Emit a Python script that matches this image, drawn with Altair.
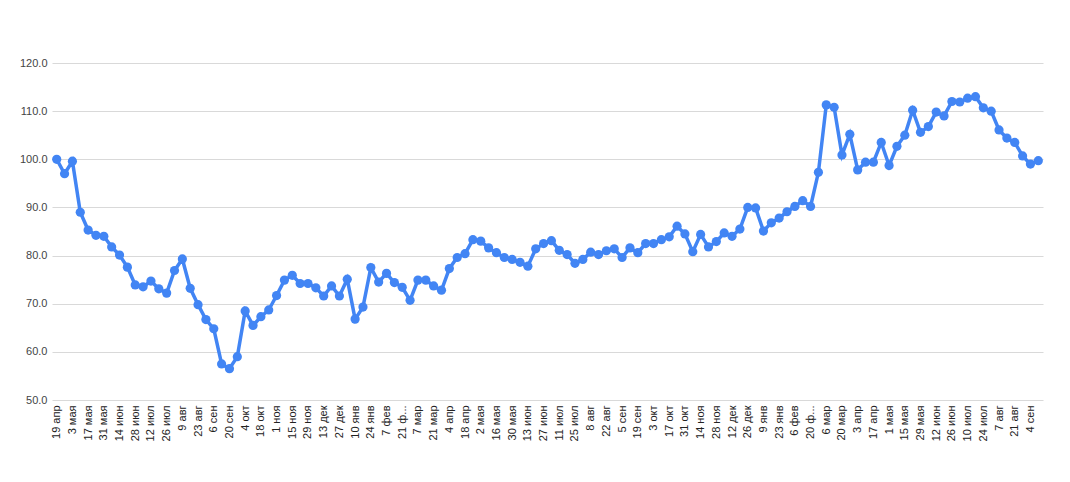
import altair as alt
import pandas as pd

weeks = [
    "19 апр", "26 апр", "3 мая", "10 мая", "17 мая", "24 мая", "31 мая", "7 июн", "14 июн", "21 июн",
    "28 июн", "5 июл", "12 июл", "19 июл", "26 июл", "2 авг", "9 авг", "16 авг", "23 авг", "30 авг",
    "6 сен", "13 сен", "20 сен", "27 сен", "4 окт", "11 окт", "18 окт", "25 окт", "1 ноя", "8 ноя",
    "15 ноя", "22 ноя", "29 ноя", "6 дек", "13 дек", "20 дек", "27 дек", "3 янв", "10 янв", "17 янв",
    "24 янв", "31 янв", "7 фев", "14 фев", "21 фев", "28 фев", "7 мар", "14 мар", "21 мар", "28 мар",
    "4 апр", "11 апр", "18 апр", "25 апр", "2 мая", "9 мая", "16 мая", "23 мая", "30 мая", "6 июн",
    "13 июн", "20 июн", "27 июн", "4 июл", "11 июл", "18 июл", "25 июл", "1 авг", "8 авг", "15 авг",
    "22 авг", "29 авг", "5 сен", "12 сен", "19 сен", "26 сен", "3 окт", "10 окт", "17 окт", "24 окт",
    "31 окт", "7 ноя", "14 ноя", "21 ноя", "28 ноя", "5 дек", "12 дек", "19 дек", "26 дек", "2 янв",
    "9 янв", "16 янв", "23 янв", "30 янв", "6 фев", "13 фев", "20 фев", "27 фев", "6 мар", "13 мар",
    "20 мар", "27 мар", "3 апр", "10 апр", "17 апр", "24 апр", "1 мая", "8 мая", "15 мая", "22 мая",
    "29 мая", "5 июн", "12 июн", "19 июн", "26 июн", "3 июл", "10 июл", "17 июл", "24 июл", "31 июл",
    "7 авг", "14 авг", "21 авг", "28 авг", "4 сен", "11 сен",
]

values = [
    100.0, 97.0, 99.6, 89.0, 85.3, 84.2, 84.0, 81.8, 80.1, 77.6,
    73.9, 73.5, 74.7, 73.1, 72.2, 76.9, 79.3, 73.2, 69.8, 66.7,
    64.8, 57.5, 56.5, 59.0, 68.5, 65.5, 67.3, 68.7, 71.7, 74.9,
    75.9, 74.2, 74.2, 73.3, 71.6, 73.7, 71.6, 75.1, 66.8, 69.3,
    77.5, 74.5, 76.3, 74.4, 73.4, 70.7, 74.9, 74.9, 73.7, 72.8,
    77.3, 79.6, 80.4, 83.3, 83.0, 81.6, 80.6, 79.6, 79.2, 78.6,
    77.8, 81.4, 82.5, 83.1, 81.1, 80.2, 78.4, 79.2, 80.7, 80.2,
    81.0, 81.4, 79.6, 81.6, 80.6, 82.5, 82.5, 83.3, 83.9, 86.1,
    84.5, 80.8, 84.4, 81.8, 82.9, 84.7, 84.0, 85.5, 90.0, 89.9,
    85.1, 86.8, 87.8, 89.1, 90.2, 91.4, 90.2, 97.3, 111.3, 110.8,
    100.9, 105.2, 97.8, 99.4, 99.4, 103.5, 98.7, 102.7, 105.0, 110.2,
    105.6, 106.8, 109.8, 109.0, 112.0, 111.9, 112.7, 113.0, 110.7, 110.0,
    106.1, 104.4, 103.5, 100.7, 99.0, 99.7,
]

y_ticks = [50, 60, 70, 80, 90, 100, 110, 120]

df = pd.DataFrame({"week": weeks, "value": values})

blue = "#4285F4"

x_enc = alt.X(
    "week:N",
    sort=None,
    scale=alt.Scale(type="point", padding=0.6),
    axis=alt.Axis(
        title=None,
        values=weeks[::2],
        labelAngle=-90,
        labelFont="Liberation Sans",
        labelFontSize=11,
        labelColor="#222222",
        labelPadding=5,
        labelOverlap=False,
        labelExpr="datum.label == '21 фев' ? '21 ф...' : (datum.label == '20 фев' ? '20 ф...' : datum.label)",
        ticks=False,
        domain=False,
        grid=False,
    ),
)
y_enc = alt.Y(
    "value:Q",
    scale=alt.Scale(domain=[50, 120], nice=False, zero=False),
    axis=alt.Axis(
        title=None,
        values=y_ticks,
        format=".1f",
        labelFont="Liberation Sans",
        labelFontSize=11,
        labelColor="#444444",
        labelPadding=5,
        ticks=False,
        domain=False,
        grid=True,
        gridColor="#d9d9d9",
        gridWidth=1,
    ),
)

base = alt.Chart(df).encode(x=x_enc, y=y_enc)
line = base.mark_line(color=blue, strokeWidth=3.5)
pts = base.mark_point(filled=True, color=blue, size=85, opacity=1)

chart = (
    alt.layer(line, pts)
    .properties(
        width=991,
        height=337,
        padding={"left": 44, "top": 55, "right": 19, "bottom": 74},
        autosize=alt.AutoSizeParams(type="none"),
    )
    .configure(background="white")
    .configure_view(stroke="transparent", strokeWidth=0)
)

chart.save("out.html", embed_options={"renderer": "svg", "actions": False})
